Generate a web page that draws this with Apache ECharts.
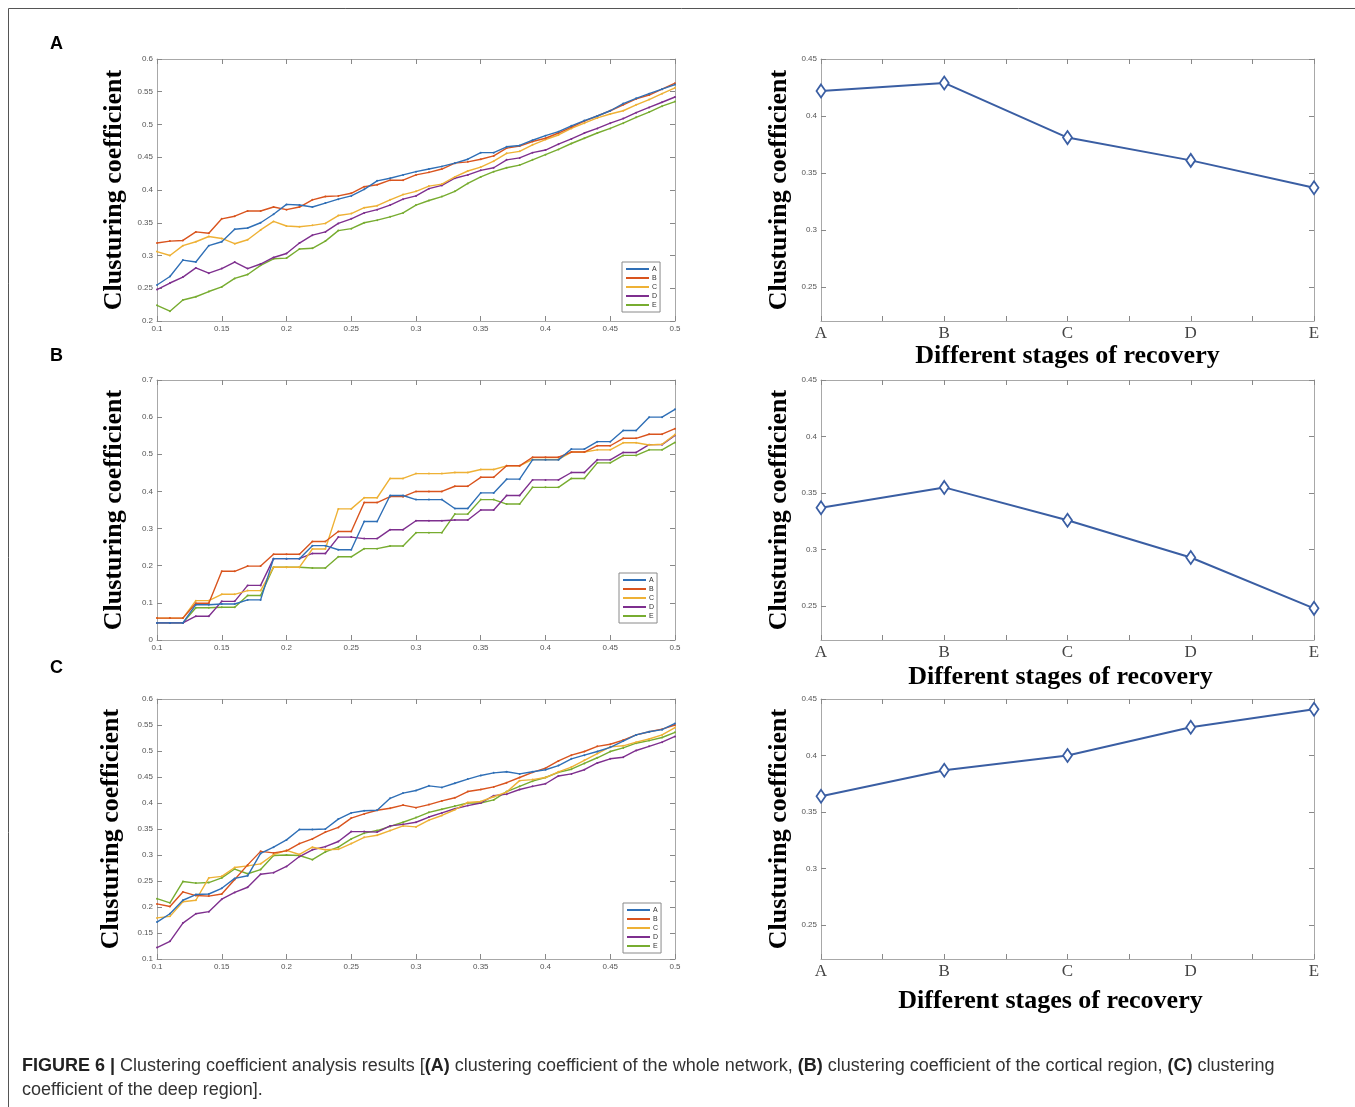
<!DOCTYPE html>
<html>
<head>
<meta charset="utf-8">
<script src="https://cdn.jsdelivr.net/npm/echarts/dist/echarts.min.js"></script>
<style>
  html, body { margin: 0; padding: 0; background: #fff; }
  #main { width: 1355px; height: 1107px; }
</style>
</head>
<body>
<div id="main"></div>
<script>
// thresholds on the x axis of the left plots
var thresholds = [0.10,0.11,0.12,0.13,0.14,0.15,0.16,0.17,0.18,0.19,0.20,0.21,0.22,0.23,0.24,0.25,0.26,0.27,0.28,0.29,0.30,
  0.31,0.32,0.33,0.34,0.35,0.36,0.37,0.38,0.39,0.40,0.41,0.42,0.43,0.44,0.45,0.46,0.47,0.48,0.49,0.50];
var stages = ['A', 'B', 'C', 'D', 'E'];

// (A) whole network
var wholeA = [0.255,0.268,0.293,0.290,0.315,0.321,0.340,0.342,0.350,0.363,0.378,0.377,0.374,0.380,0.386,0.391,0.401,0.414,0.418,0.423,0.428,
  0.432,0.436,0.441,0.447,0.457,0.457,0.466,0.468,0.476,0.483,0.489,0.498,0.506,0.513,0.521,0.532,0.540,0.547,0.554,0.561];
var wholeB = [0.319,0.322,0.323,0.336,0.334,0.356,0.360,0.368,0.368,0.374,0.370,0.374,0.385,0.390,0.391,0.395,0.405,0.408,0.415,0.415,0.423,
  0.427,0.432,0.441,0.443,0.447,0.452,0.464,0.467,0.474,0.479,0.487,0.496,0.505,0.513,0.521,0.530,0.539,0.545,0.554,0.563];
var wholeC = [0.306,0.300,0.315,0.321,0.329,0.326,0.318,0.324,0.339,0.352,0.345,0.344,0.346,0.349,0.361,0.364,0.373,0.376,0.385,0.393,0.398,
  0.406,0.409,0.420,0.429,0.435,0.444,0.456,0.459,0.469,0.477,0.484,0.494,0.502,0.510,0.516,0.521,0.530,0.538,0.547,0.556];
var wholeD = [0.248,0.258,0.267,0.281,0.273,0.280,0.290,0.280,0.287,0.297,0.303,0.319,0.331,0.336,0.349,0.356,0.365,0.370,0.377,0.386,0.391,
  0.402,0.407,0.418,0.423,0.430,0.434,0.446,0.449,0.457,0.461,0.470,0.478,0.487,0.494,0.502,0.509,0.518,0.526,0.534,0.542];
var wholeE = [0.224,0.215,0.232,0.237,0.245,0.252,0.265,0.271,0.285,0.295,0.296,0.310,0.311,0.322,0.338,0.341,0.350,0.354,0.359,0.365,0.377,
  0.384,0.390,0.398,0.410,0.420,0.428,0.434,0.438,0.446,0.454,0.462,0.471,0.479,0.487,0.494,0.502,0.511,0.519,0.528,0.535];

// (B) cortical region
var corticalA = [0.046,0.046,0.046,0.095,0.095,0.097,0.097,0.108,0.108,0.219,0.219,0.219,0.254,0.254,0.243,0.243,0.319,0.319,0.389,0.389,0.378,
  0.378,0.378,0.354,0.354,0.396,0.396,0.433,0.433,0.485,0.485,0.485,0.514,0.514,0.534,0.534,0.564,0.564,0.600,0.600,0.621];
var corticalB = [0.059,0.059,0.059,0.099,0.099,0.185,0.185,0.199,0.199,0.231,0.231,0.231,0.265,0.265,0.292,0.292,0.370,0.370,0.386,0.386,0.400,
  0.400,0.400,0.414,0.414,0.438,0.438,0.469,0.469,0.492,0.492,0.492,0.506,0.506,0.523,0.523,0.543,0.543,0.554,0.554,0.569];
var corticalC = [0.059,0.059,0.059,0.106,0.106,0.123,0.123,0.133,0.133,0.196,0.196,0.196,0.245,0.245,0.353,0.353,0.383,0.383,0.435,0.435,0.448,
  0.448,0.448,0.451,0.451,0.459,0.459,0.469,0.469,0.486,0.486,0.486,0.506,0.506,0.512,0.512,0.531,0.531,0.525,0.527,0.553];
var corticalD = [0.046,0.046,0.046,0.064,0.064,0.104,0.104,0.147,0.147,0.219,0.219,0.219,0.233,0.233,0.277,0.277,0.273,0.273,0.297,0.297,0.321,
  0.321,0.321,0.323,0.323,0.350,0.350,0.389,0.389,0.431,0.431,0.431,0.451,0.451,0.485,0.485,0.505,0.505,0.526,0.526,0.551];
var corticalE = [0.046,0.046,0.046,0.087,0.087,0.088,0.088,0.120,0.120,0.196,0.196,0.196,0.194,0.194,0.224,0.224,0.246,0.246,0.253,0.253,0.289,
  0.289,0.289,0.339,0.339,0.378,0.378,0.366,0.366,0.411,0.411,0.411,0.435,0.435,0.477,0.477,0.497,0.497,0.512,0.512,0.532];

// (C) deep region
var deepA = [0.171,0.187,0.213,0.224,0.225,0.236,0.255,0.260,0.303,0.315,0.329,0.349,0.349,0.350,0.369,0.381,0.385,0.386,0.409,0.419,0.424,
  0.433,0.430,0.438,0.446,0.453,0.458,0.460,0.456,0.460,0.464,0.472,0.485,0.492,0.499,0.507,0.519,0.531,0.537,0.541,0.553];
var deepB = [0.206,0.201,0.229,0.222,0.221,0.225,0.253,0.281,0.307,0.304,0.308,0.322,0.331,0.344,0.353,0.371,0.379,0.386,0.390,0.396,0.391,
  0.397,0.404,0.410,0.422,0.426,0.431,0.439,0.449,0.459,0.467,0.481,0.492,0.499,0.509,0.513,0.521,0.531,0.537,0.542,0.550];
var deepC = [0.179,0.182,0.210,0.213,0.256,0.259,0.276,0.279,0.283,0.301,0.309,0.301,0.315,0.310,0.311,0.322,0.334,0.338,0.347,0.356,0.354,
  0.367,0.376,0.387,0.401,0.403,0.412,0.421,0.443,0.445,0.449,0.460,0.469,0.482,0.495,0.508,0.510,0.517,0.523,0.531,0.545];
var deepD = [0.122,0.134,0.169,0.187,0.191,0.215,0.228,0.238,0.263,0.266,0.278,0.297,0.310,0.316,0.326,0.345,0.345,0.344,0.356,0.359,0.363,
  0.373,0.381,0.389,0.395,0.400,0.414,0.417,0.426,0.432,0.437,0.452,0.456,0.464,0.477,0.485,0.488,0.501,0.509,0.517,0.528];
var deepE = [0.216,0.208,0.249,0.246,0.247,0.256,0.273,0.264,0.272,0.299,0.300,0.299,0.291,0.306,0.315,0.331,0.342,0.347,0.355,0.363,0.372,
  0.382,0.388,0.394,0.400,0.400,0.406,0.422,0.432,0.442,0.449,0.459,0.465,0.476,0.487,0.499,0.506,0.515,0.520,0.526,0.536];

// mean clustering coefficient per recovery stage (right column)
var wholeMean = [0.422, 0.429, 0.381, 0.361, 0.337];
var corticalMean = [0.337, 0.355, 0.326, 0.293, 0.248];
var deepMean = [0.364, 0.387, 0.400, 0.425, 0.441];

var rightTicks = [0.25, 0.3, 0.35, 0.4, 0.45];
var lineColors = ['#2f6fb6', '#d9541e', '#eeb135', '#7e2f8e', '#77ac30'];

var leftPanels = [
  { top: 59, height: 262, min: 0.2, max: 0.6, interval: 0.05, data: [wholeA, wholeB, wholeC, wholeD, wholeE], legend: [622, 262], nameGap: 30 },
  { top: 380, height: 260, min: 0, max: 0.7, interval: 0.1, data: [corticalA, corticalB, corticalC, corticalD, corticalE], legend: [619, 573], nameGap: 30 },
  { top: 699, height: 260, min: 0.1, max: 0.6, interval: 0.05, data: [deepA, deepB, deepC, deepD, deepE], legend: [623, 903], nameGap: 33 }
];
var rightPanels = [
  { top: 59, height: 262, data: wholeMean, xGap: 20, xPad: 0 },
  { top: 380, height: 260, data: corticalMean, xGap: 24, xPad: 14 },
  { top: 699, height: 260, data: deepMean, xGap: 29, xPad: 34 }
];

var tickLabel = { fontSize: 8, color: '#555', fontFamily: 'Liberation Sans' };
var boxLine = { show: true, onZero: false, lineStyle: { color: '#a8a8a8', width: 1 } };
var inTick = { show: true, inside: true, length: 5, lineStyle: { color: '#888' } };
var titleFont = { fontFamily: 'Liberation Serif', fontWeight: 'bold', fontSize: 26, color: '#000' };

var grids = [], xAxes = [], yAxes = [], series = [], legends = [];

function fmt(v) { return String(parseFloat(v.toFixed(2))); }

leftPanels.forEach(function (p) {
  var g = grids.length;
  grids.push({ left: 157, top: p.top, width: 518, height: p.height });
  // bottom + top x axes (box)
  xAxes.push({ type: 'value', gridIndex: g, min: 0.1, max: 0.5, interval: 0.05, axisLine: boxLine, axisTick: inTick,
    splitLine: { show: false }, axisLabel: Object.assign({ margin: 4, formatter: fmt }, tickLabel) });
  xAxes.push({ type: 'value', gridIndex: g, position: 'top', min: 0.1, max: 0.5, interval: 0.05, axisLine: boxLine,
    axisTick: inTick, splitLine: { show: false }, axisLabel: { show: false } });
  yAxes.push({ type: 'value', gridIndex: g, min: p.min, max: p.max, interval: p.interval, axisLine: boxLine, axisTick: inTick,
    splitLine: { show: false }, axisLabel: Object.assign({ margin: 4, formatter: fmt }, tickLabel),
    name: 'Clusturing coefficient', nameLocation: 'middle', nameRotate: 90, nameGap: p.nameGap, nameTextStyle: titleFont });
  yAxes.push({ type: 'value', gridIndex: g, position: 'right', min: p.min, max: p.max, interval: p.interval, axisLine: boxLine,
    axisTick: inTick, splitLine: { show: false }, axisLabel: { show: false } });
  p.data.forEach(function (vals, k) {
    series.push({
      type: 'line', name: stages[k], xAxisIndex: 2 * g, yAxisIndex: 2 * g,
      data: thresholds.map(function (t, i) { return [t, vals[i]]; }),
      symbol: 'circle', symbolSize: 2, showSymbol: true,
      lineStyle: { width: 1.4, color: lineColors[k] }, itemStyle: { color: lineColors[k] },
      z: 10 - k
    });
  });
  legends.push({
    data: stages, left: p.legend[0], top: p.legend[1], orient: 'vertical', icon: 'rect',
    itemWidth: 23, itemHeight: 2, itemGap: 1, padding: [3, 3, 3, 4],
    borderColor: '#8a8a8a', borderWidth: 1, backgroundColor: '#fff', selectedMode: false,
    textStyle: { fontSize: 7, color: '#333', padding: [0, 0, 0, -2], fontFamily: 'Liberation Sans', lineHeight: 8 }
  });
});

rightPanels.forEach(function (p) {
  var g = grids.length;
  grids.push({ left: 821, top: p.top, width: 493, height: p.height });
  xAxes.push({ type: 'value', gridIndex: g, min: 1, max: 5, interval: 0.5, axisLine: boxLine, axisTick: inTick,
    splitLine: { show: false },
    axisLabel: { margin: 4, fontSize: 17, color: '#444', fontFamily: 'Liberation Serif',
      formatter: function (v) { return Number.isInteger(v) ? stages[v - 1] : ''; } },
    name: 'Different stages of recovery', nameLocation: 'middle', nameGap: p.xGap,
    nameTextStyle: Object.assign({ padding: [0, p.xPad, 0, 0], verticalAlign: 'top' }, titleFont) });
  xAxes.push({ type: 'value', gridIndex: g, position: 'top', min: 1, max: 5, interval: 0.5, axisLine: boxLine,
    axisTick: inTick, splitLine: { show: false }, axisLabel: { show: false } });
  yAxes.push({ type: 'value', gridIndex: g, min: 0.22, max: 0.45, axisLine: boxLine,
    axisTick: Object.assign({ customValues: rightTicks }, inTick), splitLine: { show: false },
    axisLabel: Object.assign({ margin: 4, customValues: rightTicks, formatter: fmt }, tickLabel),
    name: 'Clusturing coefficient', nameLocation: 'middle', nameRotate: 90, nameGap: 29, nameTextStyle: titleFont });
  yAxes.push({ type: 'value', gridIndex: g, position: 'right', min: 0.22, max: 0.45, axisLine: boxLine,
    axisTick: Object.assign({ customValues: rightTicks }, inTick), splitLine: { show: false }, axisLabel: { show: false } });
  series.push({
    type: 'line', xAxisIndex: 2 * g, yAxisIndex: 2 * g,
    data: stages.map(function (s, i) { return [i + 1, p.data[i]]; }),
    symbol: 'diamond', symbolSize: [9, 13],
    lineStyle: { width: 2, color: '#3a5ea3' },
    itemStyle: { color: '#fff', borderColor: '#3a5ea3', borderWidth: 1.8 }
  });
});

var panelLetter = { fontFamily: 'Liberation Sans', fontWeight: 'bold', fontSize: 18, fill: '#000' };

var chart = echarts.init(document.getElementById('main'));
chart.setOption({
  animation: false,
  backgroundColor: '#fff',
  grid: grids,
  xAxis: xAxes,
  yAxis: yAxes,
  legend: legends,
  series: series,
  graphic: [
    { type: 'line', shape: { x1: 8.5, y1: 8.5, x2: 1355, y2: 8.5 }, style: { stroke: '#555', lineWidth: 1 } },
    { type: 'line', shape: { x1: 8.5, y1: 8.5, x2: 8.5, y2: 1107 }, style: { stroke: '#555', lineWidth: 1 } },
    { type: 'text', left: 50, top: 35, style: Object.assign({ text: 'A' }, panelLetter) },
    { type: 'text', left: 50, top: 347, style: Object.assign({ text: 'B' }, panelLetter) },
    { type: 'text', left: 50, top: 659, style: Object.assign({ text: 'C' }, panelLetter) },
    {
      type: 'text', left: 22, top: 1054,
      style: {
        text: '{b|FIGURE 6 |} Clustering coefficient analysis results [{b|(A)} clustering coefficient of the whole network, {b|(B)} clustering coefficient of the cortical region, {b|(C)} clustering\ncoefficient of the deep region].',
        fontFamily: 'Liberation Sans', fontSize: 18, lineHeight: 24, fill: '#333',
        rich: { b: { fontWeight: 'bold', fontFamily: 'Liberation Sans', fontSize: 18, lineHeight: 24, fill: '#222' } }
      }
    }
  ]
});
</script>
</body>
</html>
